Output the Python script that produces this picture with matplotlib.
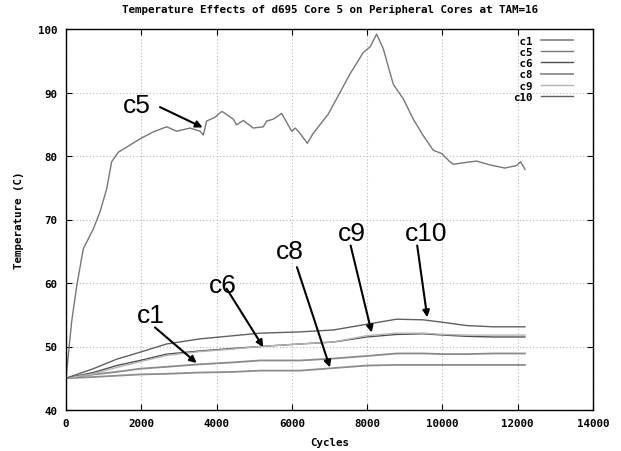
import numpy as np
import matplotlib
matplotlib.use("Agg")
import matplotlib.pyplot as plt
from matplotlib.font_manager import FontProperties

# c5 trace (hot core)
c5_x = [0, 150, 284, 460, 725, 903, 1080, 1213, 1390, 1612, 1966, 2320, 2674,
        2940, 3294, 3560, 3647, 3736, 3957, 4134, 4178, 4444, 4533, 4710, 4975,
        5241, 5330, 5507, 5729, 5995, 6090, 6198, 6411, 6570, 6968, 7278, 7543,
        7897, 8083, 8251, 8428, 8694, 8960, 9226, 9491, 9757, 9978, 10180,
        10287, 10641, 10907, 11260, 11659, 11970, 12077, 12191]
c5_y = [45.0, 53.9, 59.5, 65.4, 68.5, 71.2, 74.8, 79.1, 80.6, 81.4, 82.7, 83.8,
        84.6, 83.9, 84.4, 83.9, 83.3, 85.5, 86.1, 87.0, 86.9, 85.8, 84.9, 85.6,
        84.4, 84.6, 85.5, 85.8, 86.7, 83.9, 84.4, 83.7, 82.0, 83.6, 86.6, 90.0,
        92.9, 96.3, 97.2, 99.2, 96.9, 91.3, 89.0, 85.8, 83.2, 80.9, 80.4, 79.2,
        78.7, 79.0, 79.2, 78.6, 78.1, 78.5, 79.1, 77.9]

# peripheral cores
cyc = [0, 725, 1346, 1966, 2674, 3560, 4444, 5153, 6216, 7100, 7986, 8783,
       9491, 10022, 10641, 11349, 12191]
c10 = [45.0, 46.5, 48.0, 49.1, 50.4, 51.2, 51.7, 52.1, 52.3, 52.6, 53.5, 54.3,
       54.2, 53.8, 53.3, 53.1, 53.1]
c6 = [45.0, 45.9, 47.0, 47.8, 48.8, 49.3, 49.7, 50.0, 50.4, 50.7, 51.5, 51.9,
      52.0, 51.8, 51.6, 51.5, 51.5]
c9 = [45.0, 45.7, 46.7, 47.6, 48.6, 49.2, 49.6, 50.0, 50.4, 50.7, 51.7, 52.1,
      52.1, 51.9, 51.8, 51.8, 51.8]
c1 = [45.0, 45.6, 46.0, 46.5, 46.8, 47.2, 47.5, 47.8, 47.8, 48.1, 48.5, 48.9,
      48.9, 48.8, 48.8, 48.9, 48.9]
c8 = [45.0, 45.2, 45.4, 45.6, 45.7, 45.9, 46.0, 46.2, 46.2, 46.6, 47.0, 47.1,
      47.1, 47.1, 47.1, 47.1, 47.1]

# label text position, arrow tail, arrow tip
notes = [
    ("c5", (1886, 88.0), (2497, 87.7), (3630, 84.5)),
    ("c1", (2258, 55.0), (2364, 53.0), (3470, 47.4)),
    ("c6", (4170, 59.7), (4268, 59.1), (5240, 49.9)),
    ("c8", (5950, 65.0), (6135, 62.5), (7012, 46.7)),
    ("c9", (7588, 67.9), (7561, 65.9), (8120, 52.2)),
    ("c10", (9580, 67.9), (9330, 65.9), (9597, 54.6)),
]

mono = {"family": "DejaVu Sans Mono", "weight": "bold", "size": 7.8}

fig = plt.figure(figsize=(6.21, 4.52), dpi=100)
ax = fig.add_axes([66 / 621, 41 / 452, 527 / 621, 381 / 452])

# monospace font, so leading spaces right-align the legend labels
ax.plot(cyc, c1, color="#8a8a8a", lw=1.3, label=" c1")
ax.plot(c5_x, c5_y, color="#777777", lw=1.0, label=" c5")
ax.plot(cyc, c6, color="#505050", lw=1.0, label=" c6")
ax.plot(cyc, c8, color="#8c8c8c", lw=1.3, label=" c8")
ax.plot(cyc, c9, color="#b4b4b4", lw=1.0, label=" c9")
ax.plot(cyc, c10, color="#606060", lw=1.0, label="c10")

for name, txt, tail, tip in notes:
    ax.text(txt[0], txt[1], name, fontsize=19, family="Liberation Sans",
            ha="center", va="center")
    ax.annotate("", xy=tip, xytext=tail,
                arrowprops=dict(arrowstyle="-|>", color="black", lw=1.5,
                                mutation_scale=10, shrinkA=0, shrinkB=0))

ax.set_xlim(0, 14000)
ax.set_ylim(40, 100)
ax.set_xticks(np.arange(0, 14001, 2000))
ax.set_yticks(np.arange(40, 101, 10))
ax.grid(True, color="#b8b8b8", linestyle=(0, (1, 2)), lw=0.8)
ax.tick_params(direction="in", top=True, right=True, length=4, pad=6)
for lab in ax.get_xticklabels() + ax.get_yticklabels():
    lab.set_fontproperties(FontProperties(**mono))
for s in ax.spines.values():
    s.set_linewidth(1.0)

ax.set_title("Temperature Effects of d695 Core 5 on Peripheral Cores at TAM=16",
             fontdict=mono, pad=12)
ax.set_xlabel("Cycles", fontdict=mono, labelpad=6)
ax.set_ylabel("Temperature (C)", fontdict=mono, labelpad=10)

leg = ax.legend(loc="upper right", frameon=False, markerfirst=False,
                prop=FontProperties(**mono),
                handlelength=3.0, labelspacing=0.12, handletextpad=0.8,
                borderaxespad=0.2, bbox_to_anchor=(0.975, 1.0))

fig.savefig("out.png", dpi=100)
